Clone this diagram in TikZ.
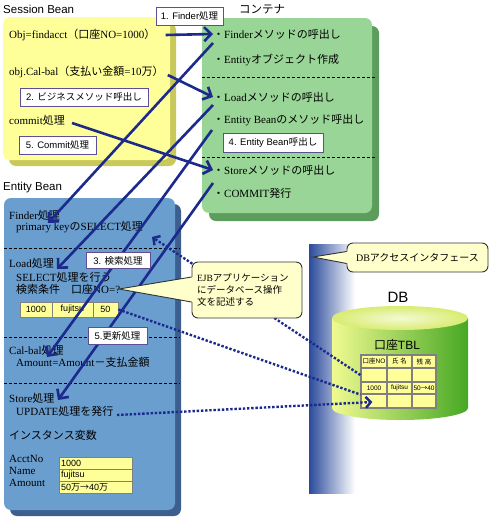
\documentclass[tikz,border=0pt]{standalone}
\usepackage{fontspec}
\setmainfont{Liberation Serif}
\setsansfont{Liberation Sans}
\newfontfamily\jpfamily{Noto Sans CJK JP}
\usetikzlibrary{arrows.meta,calc}

% switch to the Japanese font for kana, kanji and full-width forms
\XeTeXinterchartokenstate=1
\newXeTeXintercharclass\JPchars
\newcount\jpcode
\newcommand{\markjp}[2]{\jpcode=#1\relax
  \loop\XeTeXcharclass\jpcode=\JPchars
  \ifnum\jpcode<#2\relax\advance\jpcode by 1\relax\repeat}
\markjp{"3000}{"30FF}
\markjp{"4E00}{"9FFF}
\markjp{"FF01}{"FF60}
\markjp{"2190}{"2193}
\newcommand{\backfamily}{\rmfamily}
\XeTeXinterchartoks 0 \JPchars = {\jpfamily}
\XeTeXinterchartoks 4095 \JPchars = {\jpfamily}
\XeTeXinterchartoks \JPchars 0 = {\backfamily}
\XeTeXinterchartoks \JPchars 4095 = {\backfamily}

\definecolor{sbyellow}{HTML}{FFFF99}
\definecolor{sbshadow}{HTML}{C9C85A}
\definecolor{ctgreen}{HTML}{99D596}
\definecolor{ctshadow}{HTML}{5C9C5C}
\definecolor{ebblue}{HTML}{6A9ECF}
\definecolor{ebshadow}{HTML}{3D5F8F}
\definecolor{navy}{HTML}{1B2A8C}
\definecolor{tagline}{HTML}{5C4F96}
\definecolor{callfill}{HTML}{FFFFCC}
\definecolor{cellfill}{HTML}{FFFF99}
\definecolor{dbbar}{HTML}{2A4A9C}
\definecolor{dblight}{HTML}{F0FA90}
\definecolor{dbmid}{HTML}{C4E450}
\definecolor{dbdark}{HTML}{46A824}
\definecolor{dbtop}{HTML}{D9EC70}

\newcommand{\bodysize}{\fontsize{11}{12}\selectfont}
\newcommand{\sanssize}[1]{\sffamily\fontsize{#1}{#1}\selectfont\let\backfamily\sffamily}

\begin{document}
\begin{tikzpicture}[x=1pt, y=-1pt,
  txt/.style={anchor=west, inner sep=0pt, font=\bodysize},
  head/.style={anchor=west, inner sep=0pt, font=\sanssize{11.5}},
  tag/.style={draw=tagline, fill=white, line width=0.9pt, inner sep=0pt,
    minimum height=18, font=\sanssize{9.5}},
  cell/.style={draw=gray, fill=cellfill, line width=0.8pt, inner sep=0pt,
    minimum height=15, font=\sanssize{9}},
  ivar/.style={draw=gray, fill=cellfill, line width=0.8pt, inner xsep=2pt,
    inner ysep=0pt, text width=69, minimum height=12, align=left,
    font=\sanssize{9}},
  dbcell/.style={draw=gray, fill=cellfill, line width=1.2pt, inner sep=0pt,
    font=\sanssize{6.5}},
  callbox/.style={draw=black!80, fill=callfill, rounded corners=6,
    line width=0.9pt, inner sep=0pt, font=\fontsize{9.5}{12}\selectfont},
  sep/.style={black, line width=1pt, dash pattern=on 3pt off 2pt},
  flow/.style={draw=navy, line width=2.6pt,
    -{Straight Barb[length=7pt, width=14pt]}},
  dbflow/.style={draw=navy, line width=2.4pt, dash pattern=on 2.4pt off 1.8pt}]

\useasboundingbox (0,0) rectangle (495,517);

% Session Bean
\node[head] (sbTitle) at (3,9) {Session Bean};
\fill[sbshadow, rounded corners=7] (9,23) rectangle (176,166);
\fill[sbyellow, rounded corners=7] (3,17) rectangle (170,160);
\node[txt] (sObj) at (9,35) {Obj=findacct（口座NO=1000）};
\node[txt] (sCal) at (9,72) {obj.Cal-bal（支払い金額=10万）};
\node[txt] (sCommit) at (9,120) {commit処理};

% Container
\node[head, anchor=center] (ctTitle) at (262,9) {コンテナ};
\fill[ctshadow, rounded corners=7] (209,26) rectangle (379,221);
\fill[ctgreen, rounded corners=7] (202,18) rectangle (372,213);
\draw[sep] (202,77) -- (377,77);
\draw[sep] (202,157) -- (377,157);
\node[txt] (cFinder) at (213,34) {・Finderメソッドの呼出し};
\node[txt] (cEntity) at (213,60) {・Entityオブジェクト作成};
\node[txt] (cLoad) at (213,97) {・Loadメソッドの呼出し};
\node[txt] (cBean) at (213,120) {・Entity Beanのメソッド呼出し};
\node[txt] (cStore) at (213,170) {・Storeメソッドの呼出し};
\node[txt] (cCommit) at (213,193) {・COMMIT発行};

% Entity Bean
\node[head] (ebTitle) at (3,188) {Entity Bean};
\fill[ebshadow, rounded corners=7] (10,204) rectangle (181,516);
\fill[ebblue, rounded corners=7] (4,198) rectangle (175,510);
\draw[sep] (4,248) -- (180,248);
\draw[sep] (4,337) -- (180,337);
\draw[sep] (4,383) -- (180,383);
\node[txt] (eFinder) at (9,215) {Finder処理};
\node[txt] (ePK) at (16,227) {primary keyのSELECT処理};
\node[txt] (eLoad) at (9,263) {Load処理};
\node[txt] (eSel) at (16,277) {SELECT処理を行う};
\node[txt] (eCond) at (16,289) {検索条件　口座NO=?};
\node[cell, minimum width=32] (r1000) at (36,309.5) {1000};
\node[cell, minimum width=41] (rName) at (72.5,309.5) {fujitsu};
\node[cell, minimum width=25] (r50) at (105.5,309.5) {50};
\node[txt] (eCal) at (9,350) {Cal-bal処理};
\node[txt] (eAmt) at (16,362) {Amount=Amount－支払金額};
\node[txt] (eStore) at (9,398) {Store処理};
\node[txt] (eUpd) at (16,411) {UPDATE処理を発行};
\node[txt] (eInst) at (9,435) {インスタンス変数};
\node[txt] (eAcct) at (9,459) {AcctNo};
\node[txt] (eName) at (9,471) {Name};
\node[txt] (eAmount) at (9,483) {Amount};
\node[ivar] (vAcct) at (95.5,463) {1000};
\node[ivar] (vName) at (95.5,475) {fujitsu};
\node[ivar] (vAmount) at (95.5,487) {50万→40万};

% DB side
\shade[left color=dbbar, right color=white] (309,244) rectangle (355,493);
\node[font=\sanssize{15}] (dbTitle) at (398,297) {DB};
\shade[left color=dblight, middle color=dbmid, right color=dbdark]
  (332,318) -- (332,408) arc[start angle=180, end angle=0, x radius=68, y radius=12]
  -- (468,318) -- cycle;
\shade[inner color=white!70!dbtop, outer color=dbtop]
  (400,318) ellipse [x radius=68, y radius=12];
\node[font=\sanssize{12}] (tblTitle) at (397,345) {口座TBL};
\foreach \n/\x/\y/\w/\h/\t in {
    11/374/361.5/26/13/口座NO, 12/399.5/361.5/25/13/氏 名, 13/424/361.5/24/13/残 高,
    21/374/375/26/14/{}, 22/399.5/375/25/14/{}, 23/424/375/24/14/{},
    31/374/388/26/12/1000, 32/399.5/388/25/12/fujitsu, 33/424/388/24/12/50→40,
    41/374/401/26/14/{}, 42/399.5/401/25/14/{}, 43/424/401/24/14/{}}
  \node[dbcell, minimum width=\w, minimum height=\h] (t\n) at (\x,\y) {\t};

% calls
\draw[flow] ($(sObj.east)+(10,0)$) -- (cFinder.west);
\draw[flow] ($(sCal.east)+(4,3)$) -- (cLoad.west);
\draw[flow] ($(sCommit.east)+(7,3)$) -- (cStore.west);
\draw[flow] ($(cFinder.west)+(0,9)$) -- ($(eFinder.west)+(39,8)$);
\draw[flow] ($(cLoad.west)+(0,8)$) -- ($(eLoad.west)+(48,6)$);
\draw[flow] ($(cBean.west)+(-1,10)$) -- ($(eCal.west)+(38,7)$);
\draw[flow] ($(cStore.west)+(0,13)$) -- ($(eStore.west)+(49,2)$);

% database access
\draw[dbflow, -{Straight Barb[length=5pt, width=11pt]}] (t21.west) -- ($(ePK.west)+(136,10)$);
\draw[dbflow] (r50.east) -- (t31.south west);
\draw[dbflow, -{Straight Barb[length=5pt, width=11pt]}] ($(eUpd.west)+(101,4)$) -- ($(t41.west)+(12,1)$);

% callouts
\node[callbox, minimum width=110, minimum height=56, text width=100, align=left]
  (ejb) at (247,290) {EJBアプリケーション\\にデータベース操作\\文を記述する};
\coordinate (ejbtip) at (119,289);
\fill[callfill] ($(ejb.west)+(2,-13)$) -- (ejbtip) -- ($(ejb.west)+(2,12)$) -- cycle;
\draw[black!80, line width=0.9pt] ($(ejb.west)+(0,-13)$) -- (ejbtip) -- ($(ejb.west)+(0,12)$);
\node[callbox, minimum width=141, minimum height=29, font=\fontsize{10}{12}\selectfont]
  (dbif) at (417.5,257.5) {DBアクセスインタフェース};
\coordinate (dbiftip) at (313,257);
\fill[callfill] ($(dbif.west)+(2,-6)$) -- (dbiftip) -- ($(dbif.west)+(2,6)$) -- cycle;
\draw[black!80, line width=0.9pt] ($(dbif.west)+(0,-6)$) -- (dbiftip) -- ($(dbif.west)+(0,6)$);

% step labels
\node[tag, minimum width=67] (tFinder) at (189.5,16) {1. Finder処理};
\node[tag, minimum width=128] (tBiz) at (84,97) {2. ビジネスメソッド呼出し};
\node[tag, minimum width=77] (tCommit) at (57.5,145) {5. Commit処理};
\node[tag, minimum width=100, minimum height=19] (tBean) at (273,142.5) {4. Entity Bean呼出し};
\node[tag, minimum width=64, minimum height=16] (tSearch) at (118,260.5) {3. 検索処理};
\node[tag, minimum width=59, minimum height=17] (tUpdate) at (117.5,335.5) {5.更新処理};
\end{tikzpicture}
\end{document}
